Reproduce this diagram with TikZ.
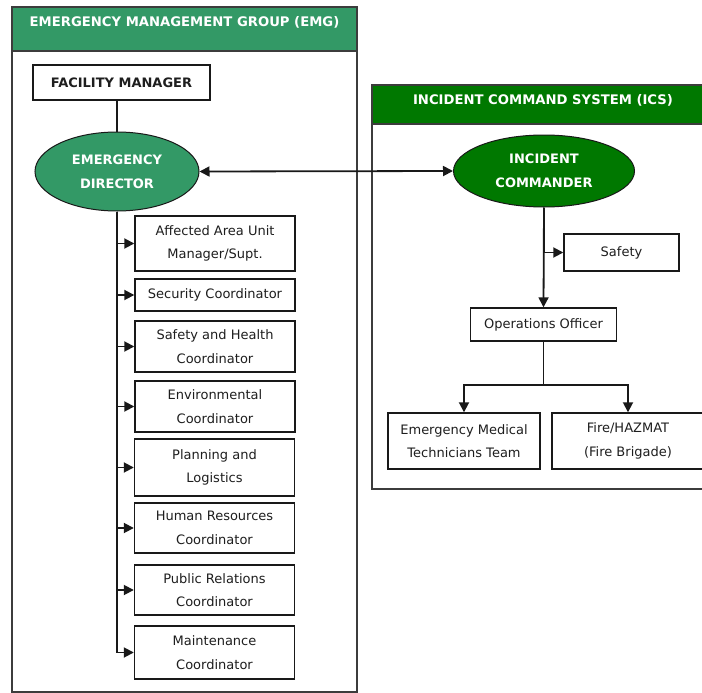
\documentclass[tikz,border=0pt]{standalone}
\usepackage{fontspec}
\setmainfont{DejaVu Sans}
\usetikzlibrary{shapes.geometric, arrows.meta, positioning}
\definecolor{EMGreen}{RGB}{51,153,102}
\definecolor{ICGreen}{RGB}{0,120,0}
\definecolor{EdgeGray}{RGB}{25,25,25}
\definecolor{TextGray}{RGB}{30,30,30}

\begin{document}
\begin{tikzpicture}[x=1pt, y=-1pt,
            panel/.style={draw=EdgeGray!85, line width=1.4pt},
            box/.style={rectangle, draw=EdgeGray, line width=1.4pt, fill=white,
                        inner sep=0pt, text=TextGray, align=center,
                        font=\fontsize{13}{23.5}\selectfont},
            boss/.style={ellipse, draw=EdgeGray, line width=1pt, inner sep=0pt,
                         text=white, align=center,
                         font=\fontsize{13}{24}\selectfont\bfseries},
            head/.style={text=white, font=\fontsize{13.2}{15}\selectfont\bfseries},
            arr/.style={-{Triangle[length=10pt, width=10pt]}, EdgeGray, line width=1.8pt},
            link/.style={EdgeGray, line width=1.8pt}
          ]
          \clip (0,0) rectangle (702,693);
          \fill[white] (0,0) rectangle (702,693);

          % emergency management group
          \draw[panel] (12,7) rectangle (357,692);
          \draw[panel, fill=EMGreen] (12,7) rectangle (357,51);
          \node[head] (emg) at (184.5,22) {EMERGENCY MANAGEMENT GROUP (EMG)};

          \node[box, minimum width=177, minimum height=35,
                font=\fontsize{13}{15}\selectfont\bfseries] (fm) at (121.5,82.5) {FACILITY MANAGER};
          \node[boss, fill=EMGreen, minimum width=164, minimum height=79] (ed) at (117,171.5)
                {EMERGENCY\\DIRECTOR};

          \node[box, minimum width=160, minimum height=55] (aau) at (215,243.5) {Affected Area Unit\\Manager/Supt.};
          \node[box, minimum width=160, minimum height=32] (sec) at (215,295) {Security Coordinator};
          \node[box, minimum width=160, minimum height=51] (shc) at (215,346.5) {Safety and Health\\Coordinator};
          \node[box, minimum width=160, minimum height=51] (env) at (215,406.5) {Environmental\\Coordinator};
          \node[box, minimum width=160, minimum height=57] (pl)  at (214.5,467.5) {Planning and\\Logistics};
          \node[box, minimum width=160, minimum height=50] (hr)  at (214.5,528) {Human Resources\\Coordinator};
          \node[box, minimum width=160, minimum height=50] (pr)  at (214.5,590) {Public Relations\\Coordinator};
          \node[box, minimum width=160, minimum height=53] (mc)  at (214.5,652.5) {Maintenance\\Coordinator};

          \draw[link] (fm.south -| ed.north) -- (ed.north);
          \foreach \t in {aau, sec, shc, env, pl, hr, pr, mc}
            \draw[arr] (ed.south) |- (\t.west);

          % incident command system
          \draw[panel] (372,85) rectangle (720,489);
          \draw[panel, fill=ICGreen] (372,85) rectangle (720,124);
          \node[head] (ics) at (543,100) {INCIDENT COMMAND SYSTEM (ICS)};

          \node[boss, fill=ICGreen, minimum width=181, minimum height=72] (ic) at (544,171)
                {INCIDENT\\COMMANDER};
          \node[box, minimum width=115, minimum height=37] (saf) at (621.5,252.5) {Safety};
          \node[box, minimum width=146, minimum height=33] (ops) at (543.5,324.5) {Operations Officer};
          \node[box, minimum width=152, minimum height=56] (emt) at (464,441) {Emergency Medical\\Technicians Team};
          \node[box, minimum width=152, minimum height=56] (fire) at (628,441) {Fire/HAZMAT\\(Fire Brigade)};

          \draw[{Triangle[length=10pt, width=10pt]}-{Triangle[length=10pt, width=10pt]},
                EdgeGray, line width=1.8pt] (ed.east) -- (ic.west);
          \draw[arr] (ic.south) -- (ops.north);
          \draw[arr] (ic.south) |- (saf.west);
          \draw[arr] (ops.south) -- ++(0,43) -| (emt.north);
          \draw[arr] (ops.south) -- ++(0,43) -| (fire.north);
        \end{tikzpicture}
\end{document}
